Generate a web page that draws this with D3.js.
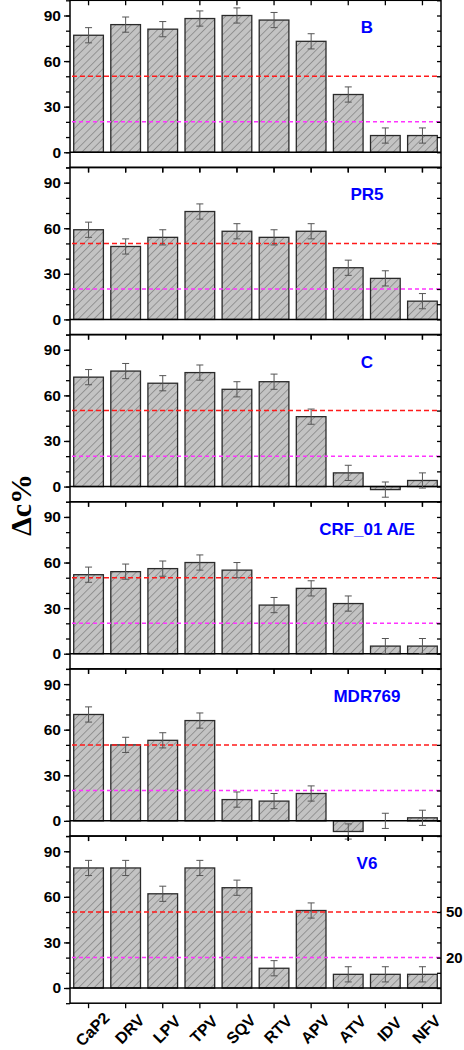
<!DOCTYPE html>
<html><head><meta charset="utf-8">
<script src="https://cdn.jsdelivr.net/npm/d3@7"></script>
<style>html,body{margin:0;padding:0;background:#fff;}svg{display:block;}</style>
</head><body>
<script>
const categories = ["CaP2","DRV","LPV","TPV","SQV","RTV","APV","ATV","IDV","NFV"];
const subtypes = ["B","PR5","C","CRF_01 A/E","MDR769","V6"];
const valuesB   = [77,84,81,88,90,87,73,38,11,11];
const valuesPR5 = [59,48,54,71,58,54,58,34,27,12];
const valuesC   = [72,76,68,75,64,69,46,9,-2,4];
const valuesCRF = [52,54,56,60,55,32,43,33,5,5];
const valuesMDR = [70,50,53,66,14,13,18,-7,0,2];
const valuesV6  = [79,79,62,79,66,13,51,9,9,9];
const errors    = [5,5,5,5,5,5,5,5,5,5];
const yTickLabels = [0,30,60,90];
const thresholds = [50,20];
const seriesList = [valuesB,valuesPR5,valuesC,valuesCRF,valuesMDR,valuesV6];

const W = 464, H = 1050;
const left = 70, right = 441, top0 = 0.3, panelH = 167.15;
const svg = d3.select("body").append("svg").attr("width", W).attr("height", H);
const defs = svg.append("defs");
const pat = defs.append("pattern").attr("id","hatch").attr("patternUnits","userSpaceOnUse")
  .attr("width",5.5).attr("height",5.5).attr("patternTransform","rotate(45)");
pat.append("rect").attr("width",5.5).attr("height",5.5).attr("fill","#c3c3c3");
pat.append("line").attr("x1",0).attr("y1",0).attr("x2",0).attr("y2",5.5).attr("stroke","#5a5a5a").attr("stroke-width",0.9);

const x = d3.scaleBand().domain(categories).range([left,right]).paddingInner(0.2).paddingOuter(0.1);
const font = "'Liberation Sans', Arial, sans-serif";

seriesList.forEach((vals, pi) => {
  const pTop = top0 + pi*panelH, pBot = pTop + panelH;
  const y = d3.scaleLinear().domain([-10,100]).range([pBot, pTop]);
  const g = svg.append("g");
  g.selectAll("rect.bar").data(vals).join("rect")
    .attr("x",(d,i)=>x(categories[i]))
    .attr("width",x.bandwidth())
    .attr("y",d=>Math.min(y(d),y(0)))
    .attr("height",d=>Math.abs(y(d)-y(0)))
    .attr("fill","url(#hatch)")
    .attr("stroke",d=>d===0?"none":"#2a2a2a").attr("stroke-width",1.3);
  g.selectAll("line.th").data(thresholds).join("line")
    .attr("x1",left+2).attr("x2",right).attr("y1",d=>y(d)).attr("y2",d=>y(d))
    .attr("stroke",(d,i)=>i===0?"#ff1a1a":"#ff33ff").attr("stroke-width",1.5)
    .attr("stroke-dasharray",(d,i)=>i===0?"5,3":"4,3");
  g.append("line").attr("x1",left).attr("x2",right).attr("y1",y(0)).attr("y2",y(0))
    .attr("stroke","#000").attr("stroke-width",1.5);
  const eb = g.selectAll("g.eb").data(vals).join("g");
  eb.append("line").attr("x1",(d,i)=>x(categories[i])+x.bandwidth()/2).attr("x2",(d,i)=>x(categories[i])+x.bandwidth()/2)
    .attr("y1",(d,i)=>y(d+errors[i])).attr("y2",(d,i)=>y(d-errors[i])).attr("stroke","#555").attr("stroke-width",1);
  [1,-1].forEach(s=>{
    eb.append("line").attr("x1",(d,i)=>x(categories[i])+x.bandwidth()/2-3.5).attr("x2",(d,i)=>x(categories[i])+x.bandwidth()/2+3.5)
      .attr("y1",(d,i)=>y(d+s*errors[i])).attr("y2",(d,i)=>y(d+s*errors[i])).attr("stroke","#555").attr("stroke-width",1);
  });
  const la = g.append("g").attr("transform",`translate(${left},0)`)
    .call(d3.axisLeft(y).tickValues(d3.range(-10,101,10)).tickSize(4).tickFormat(""));
  la.select(".domain").remove();
  la.selectAll("line").attr("stroke","#000").attr("stroke-width",1.3);
  const lm = g.append("g").attr("transform",`translate(${left},0)`)
    .call(d3.axisLeft(y).tickValues(yTickLabels).tickSize(6).tickPadding(3));
  lm.select(".domain").remove();
  lm.selectAll("line").attr("stroke","#000").attr("stroke-width",1.3);
  lm.selectAll("text").attr("font-family",font).attr("font-weight","bold").attr("font-size",15.5).attr("fill","#000");
  const ra = g.append("g").attr("transform",`translate(${right},0)`)
    .call(d3.axisLeft(y).tickValues(d3.range(0,101,10)).tickSize(4).tickFormat(""));
  ra.select(".domain").remove();
  ra.selectAll("line").attr("stroke","#000").attr("stroke-width",1.3).attr("x2",-4);
  const ba = g.append("g").attr("transform",`translate(0,${pBot})`)
    .call(d3.axisBottom(x).tickSize(5).tickFormat(""));
  ba.select(".domain").remove();
  ba.selectAll("line").attr("stroke","#000").attr("stroke-width",1.3);
  const ta = g.append("g").attr("transform",`translate(0,${pTop})`)
    .call(d3.axisBottom(x).tickSize(5).tickFormat(""));
  ta.select(".domain").remove();
  ta.selectAll("line").attr("stroke","#000").attr("stroke-width",1.3);
  g.append("rect").attr("x",left).attr("y",pTop).attr("width",right-left).attr("height",panelH)
    .attr("fill","none").attr("stroke","#000").attr("stroke-width",1.5);
  g.append("text").attr("x",367).attr("y",pTop+27).attr("dy","0.35em").attr("text-anchor","middle")
    .attr("font-family",font).attr("font-weight","bold").attr("font-size",17).attr("fill","#0000ff")
    .text(subtypes[pi]);
  if (pi === seriesList.length-1) {
    g.selectAll("text.thl").data(thresholds).join("text")
      .attr("x",446).attr("y",d=>y(d)).attr("dy","0.35em")
      .attr("font-family",font).attr("font-weight","bold").attr("font-size",15).attr("fill","#000")
      .text(d=>d);
    g.selectAll("text.cat").data(categories).join("text")
      .attr("transform",d=>`translate(${x(d)+x.bandwidth()/2+4},${pBot+26}) rotate(-45)`)
      .attr("text-anchor","middle").attr("dy","0.35em")
      .attr("font-family",font).attr("font-weight","bold").attr("font-size",16).attr("fill","#000")
      .text(d=>d);
  }
});

svg.append("text").attr("transform","translate(31,505) rotate(-90)").attr("text-anchor","middle")
  .attr("font-family","'Liberation Serif','Times New Roman',serif").attr("font-weight","bold").attr("font-size",30)
  .text("Δc%");
</script>
</body></html>
